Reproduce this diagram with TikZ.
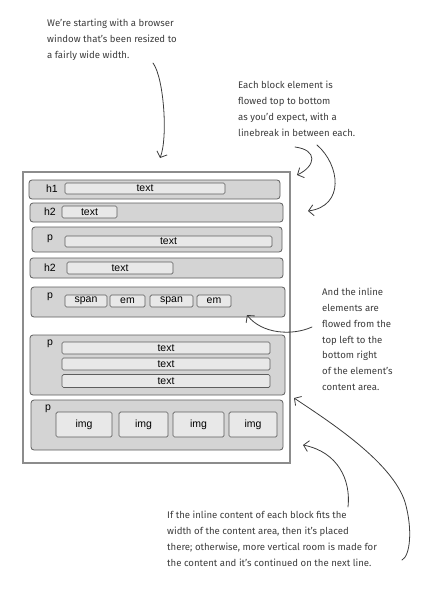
\documentclass[tikz,border=0pt]{standalone}
\usepackage{fontspec}
\setmainfont{Fira Sans}
\newfontfamily\boxfont{Liberation Sans}
\usetikzlibrary{arrows.meta}
\definecolor{ink}{HTML}{3C3C3C}
\definecolor{frameline}{HTML}{8C8C8C}
\definecolor{blockfill}{HTML}{D4D4D4}
\definecolor{innerfill}{HTML}{E8E8E8}
\definecolor{edge}{HTML}{5E5E5E}
\tikzset{
  window/.style={draw=frameline, line width=1.1pt, fill=white},
  blk/.style={draw=edge, line width=0.8pt, fill=blockfill, rounded corners=3pt, inner sep=0pt},
  inbox/.style={draw=edge, line width=0.7pt, fill=innerfill, rounded corners=1.5pt, inner sep=0pt,
    font=\boxfont\fontsize{10.5}{12}\selectfont, text=black},
  tag/.style={font=\boxfont\fontsize{10.5}{12}\selectfont, text=black, inner sep=0pt},
  note/.style={font=\fontsize{9.6}{15.8}\selectfont, text=ink, align=left, inner sep=0pt, anchor=north west},
  pointer/.style={draw=ink, line width=0.8pt, line cap=round, -{Straight Barb[length=5pt,width=11pt]}},
}
\begin{document}
\begin{tikzpicture}[x=1pt,y=-1pt]
\useasboundingbox (0,0) rectangle (429,591);

% browser window
\draw[window] (23,172) rectangle (290,463);

% block elements
\node[blk, minimum width=251pt, minimum height=19pt] (b1) at (154.5,189.5) {};
\node[blk, minimum width=253pt, minimum height=19pt] (b2) at (156.5,212.5) {};
\node[blk, minimum width=250pt, minimum height=25pt] (b3) at (157,239.5) {};
\node[blk, minimum width=253pt, minimum height=20pt] (b4) at (156.5,268) {};
\node[blk, minimum width=254pt, minimum height=30pt] (b5) at (158,302) {};
\node[blk, minimum width=255pt, minimum height=60pt] (b6) at (157.5,365) {};
\node[blk, minimum width=252pt, minimum height=50pt] (b7) at (157,425) {};

% element names
\node[tag] (t1) at (52,189) {h1};
\node[tag] (t2) at (50,212) {h2};
\node[tag] (t3) at (50,239) {p};
\node[tag] (t4) at (50,268) {h2};
\node[tag] (t5) at (50,297) {p};
\node[tag] (t6) at (50,344) {p};
\node[tag] (t7) at (48,409) {p};

% inline content
\node[inbox, minimum width=160pt, minimum height=11pt] (i1) at (145,188.5) {text};
\node[inbox, minimum width=55pt, minimum height=12pt] (i2) at (89.5,212) {text};
\node[inbox, minimum width=207pt, minimum height=11pt] (i3) at (168.5,241.5) {text};
\node[inbox, minimum width=106pt, minimum height=12pt] (i4) at (120,268) {text};
\node[inbox, minimum width=42pt, minimum height=12pt] (s1) at (86,301) {span};
\node[inbox, minimum width=35pt, minimum height=12pt] (e1) at (127.5,301) {em};
\node[inbox, minimum width=43pt, minimum height=12pt] (s2) at (171.5,301) {span};
\node[inbox, minimum width=34pt, minimum height=12pt] (e2) at (214,301) {em};
\node[inbox, minimum width=208pt, minimum height=12pt] (r1) at (166,348) {text};
\node[inbox, minimum width=208pt, minimum height=12pt] (r2) at (166,364) {text};
\node[inbox, minimum width=208pt, minimum height=13pt] (r3) at (166,381) {text};
\node[inbox, minimum width=56pt, minimum height=25pt] (g1) at (84,424.5) {img};
\node[inbox, minimum width=49pt, minimum height=25pt] (g2) at (143.5,424.5) {img};
\node[inbox, minimum width=51pt, minimum height=25pt] (g3) at (198.5,424.5) {img};
\node[inbox, minimum width=48pt, minimum height=25pt] (g4) at (253,424.5) {img};

% annotations
\node[note] (n1) at (47,19) {We're starting with a browser\\window that's been resized to\\a fairly wide width.};
\node[note] (n2) at (238,81) {Each block element is\\flowed top to bottom\\as you'd expect, with a\\linebreak in between each.};
\node[note] (n3) at (322,288) {And the inline\\elements are\\flowed from the\\top left to the\\bottom right\\of the element's\\content area.};
\node[note] (n4) at (167,511) {If the inline content of each block fits the\\width of the content area, then it's placed\\there; otherwise, more vertical room is made for\\the content and it's continued on the next line.};

% pointer ends
\coordinate (a1s) at (153,63);  \coordinate (a1e) at (160,158);
\coordinate (a2s) at (295,147); \coordinate (a2e) at (297,175);
\coordinate (a3s) at (317,145); \coordinate (a3e) at (308,211);
\coordinate (a4s) at (312,327); \coordinate (a4e) at (247,315);
\coordinate (a5s) at (348,507); \coordinate (a5e) at (303,445);
\coordinate (a6s) at (402,560); \coordinate (a6e) at (294,398);

% hand-drawn pointers
\draw[pointer] (a1s) .. controls (164,78) and (168,138) .. (a1e);
\draw[pointer] (a2s) .. controls (318,150) and (316,166) .. (a2e);
\draw[pointer] (a3s) .. controls (340,165) and (345,206) .. (a3e);
\draw[pointer] (a4s) .. controls (292,336) and (262,334) .. (a4e);
\draw[pointer] (a5s) .. controls (351,480) and (338,452) .. (a5e);
\draw[pointer] (a6s) .. controls (410,556) and (413,530) .. (405,502)
  .. controls (392,462) and (330,422) .. (a6e);
\end{tikzpicture}
\end{document}
